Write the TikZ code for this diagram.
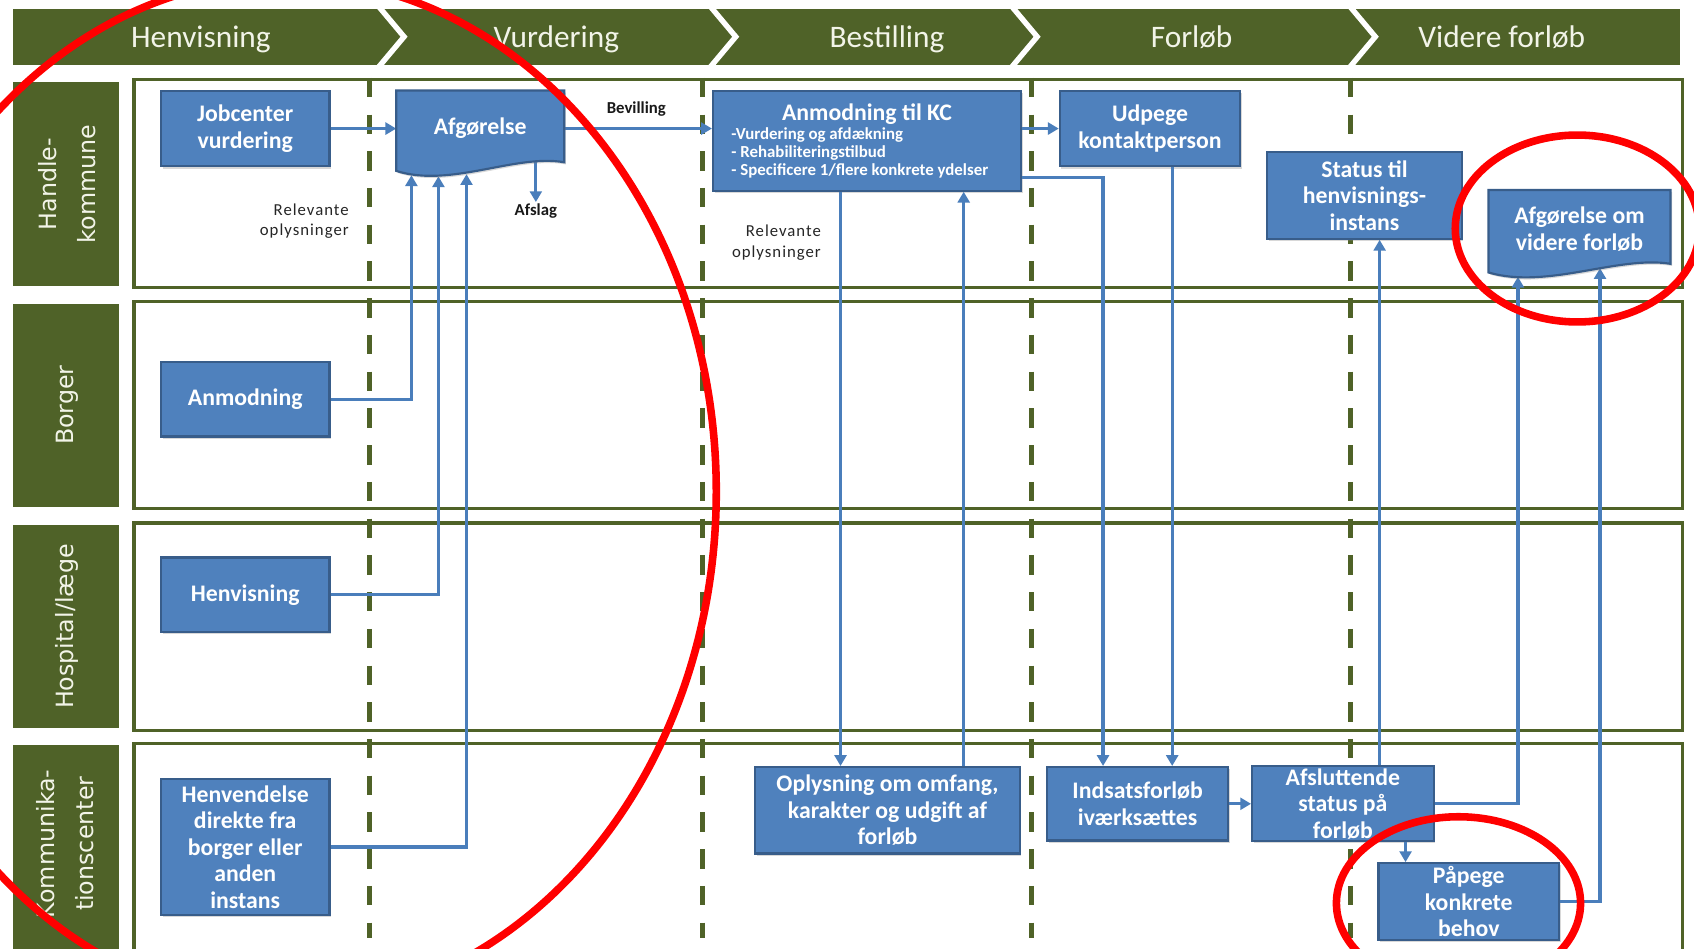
\documentclass[tikz,border=0pt]{standalone}
\usepackage{fontspec}
\setmainfont{Carlito}
\newfontfamily\lanefont{DejaVu Sans}
\newfontfamily\relfont{Carlito}[LetterSpace=6]
\usetikzlibrary{arrows.meta,calc,shadows}
\definecolor{lanegreen}{HTML}{4F6228}
\definecolor{boxblue}{HTML}{4F81BD}
\definecolor{boxedge}{HTML}{385D8A}
\definecolor{lineblue}{HTML}{4A7EBB}
\definecolor{headtext}{HTML}{F2F4E8}
\pgfdeclarelayer{docs}
\pgfdeclarelayer{front}
\pgfsetlayers{main,docs,front}
\tikzset{
  box/.style={draw=boxedge, line width=2pt, fill=boxblue, text=white, align=center, inner sep=2pt,
    font=\bfseries\fontsize{22}{24.5}\selectfont,
    drop shadow={shadow xshift=1.5pt, shadow yshift=-2pt, opacity=0.3}},
  doctext/.style={text=white, align=center, inner sep=2pt, font=\bfseries\fontsize{22}{24.5}\selectfont},
  docshape/.style={draw=boxedge, line width=2pt, fill=boxblue,
    drop shadow={shadow xshift=1.5pt, shadow yshift=-2pt, opacity=0.3}},
  conn/.style={draw=lineblue, line width=3pt, -{Triangle[length=10pt,width=11pt]}},
  lanebox/.style={draw=lanegreen, line width=3pt},
  lanetext/.style={text=headtext, rotate=90, align=center, font=\lanefont\fontsize{22}{36}\selectfont},
  headtxt/.style={text=headtext, font=\fontsize{29}{34}\selectfont, anchor=base},
  sepline/.style={draw=lanegreen, line width=5pt, dash pattern=on 18pt off 16pt},
  chev/.style={draw=white, line width=5pt, miter limit=20},
  smallnote/.style={text=black!90, font=\bfseries\fontsize{15.5}{18}\selectfont, inner sep=1pt},
  relnote/.style={text=black!85, align=right, font=\relfont\fontsize{15.5}{19}\selectfont, inner sep=1pt},
  redring/.style={draw=red, line width=7pt},
}
\begin{document}
\begin{tikzpicture}[x=1pt,y=-1pt]
\useasboundingbox (0,0) rectangle (1568,878);
\clip (0,0) rectangle (1568,878);
\fill[white] (0,0) rectangle (1568,878);

% header band
\fill[lanegreen] (12,8) rectangle (1555,60);
\foreach \x in {348,655,934,1247} \draw[chev] (\x,3) -- ({\x+26},34) -- (\x,65);
\node[headtxt] (hHen) at (186,44) {Henvisning};
\node[headtxt] (hVur) at (515,44) {Vurdering};
\node[headtxt] (hBes) at (821,44) {Bestilling};
\node[headtxt] (hFor) at (1103,44) {Forløb};
\node[headtxt] (hVid) at (1390,44) {Videre forløb};

% lane labels
\fill[lanegreen] (12,76) rectangle (110,265);
\fill[lanegreen] (12,281) rectangle (110,469);
\fill[lanegreen] (12,486) rectangle (110,674);
\fill[lanegreen] (12,690) rectangle (110,900);
\node[lanetext] (lHK) at (62,170.5) {Handle-\\kommune};
\node[lanetext] (lBo) at (62,375) {Borger};
\node[lanetext] (lHo) at (62,580) {Hospital/læge};
\node[lanetext] (lKc) at (60,781) {Kommunika-\\tionscenter};

% lane boxes
\draw[lanebox] (124,73.5) rectangle (1557,266);
\draw[lanebox] (124,279) rectangle (1557,471);
\draw[lanebox] (124,484) rectangle (1557,676);
\draw[lanebox] (124,688) rectangle (1557,900);

% phase separators
\foreach \x in {342,650,955,1250} \draw[sepline] (\x,72) -- (\x,868);

% boxes
\node[box, minimum width=156, minimum height=70] (jc) at (227,119) {Jobcenter\\vurdering};
\node[box, minimum width=156, minimum height=69] (anm) at (227,369.5) {Anmodning};
\node[box, minimum width=156, minimum height=69] (hen) at (227,550.5) {Henvisning};
\node[box, minimum width=156, minimum height=126] (hvd) at (227,784) {Henvendelse\\direkte fra\\borger eller\\anden\\instans};
\node[box, minimum width=285, minimum height=92, text width=251pt, inner xsep=17pt, align=left] (akc) at (802.5,130.5)
  {\spaceskip=0pt\xspaceskip=0pt{\centering\fontsize{22}{24}\selectfont Anmodning til KC\par}\vspace{1.6pt}{\fontsize{15.6}{16.7}\selectfont -Vurdering og afdækning\\- Rehabiliteringstilbud\\- Specificere 1/flere konkrete ydelser\par}};
\node[box, minimum width=167, minimum height=70] (udp) at (1064.5,119) {Udpege\\kontaktperson};
\node[box, minimum width=180, minimum height=80] (sta) at (1263,181) {Status til\\henvisnings-\\instans};
\node[box, minimum width=245, minimum height=80] (opl) at (821.5,750) {Oplysning om omfang,\\karakter og udgift af\\forløb};
\node[box, minimum width=168, minimum height=68] (ind) at (1053,744) {Indsatsforløb\\iværksættes};
\node[box, minimum width=168, minimum height=68] (afs) at (1243,744) {Afsluttende\\status på\\forløb};
\node[box, minimum width=167, minimum height=71] (paa) at (1359.5,834.5) {Påpege\\konkrete\\behov};

% document shaped nodes
\begin{pgfonlayer}{front}
\node[doctext, minimum width=155, minimum height=70] (afg) at (444.5,119) {Afgørelse};
\node[doctext, minimum width=168, minimum height=72] (avf) at (1462,212) {Afgørelse om\\videre forløb};
\end{pgfonlayer}
\begin{pgfonlayer}{docs}
\path[docshape] (afg.north west) -- (afg.north east) -- ($(afg.south east)+(0,-4)$)
  .. controls ($(afg.south east)+(-45,-12)$) and ($(afg.south west)+(50,20)$) .. ($(afg.south west)+(0,4)$) -- cycle;
\path[docshape] (avf.north west) -- (avf.north east) -- ($(avf.south east)+(0,-4)$)
  .. controls ($(avf.south east)+(-48,-12)$) and ($(avf.south west)+(54,20)$) .. ($(avf.south west)+(0,4)$) -- cycle;
\end{pgfonlayer}

% labels
\node[smallnote] (afslag) at (496,195) {Afslag};
\node[smallnote] (bev) at (589,101) {Bevilling};
\node[relnote, anchor=east] (rel1) at (324,204.5) {Relevante\\oplysninger};
\node[relnote, anchor=east] (rel2) at (761,224.5) {Relevante\\oplysninger};

% column helpers
\coordinate (c1) at (778,0);
\coordinate (c2) at (892,0);
\coordinate (c3) at (1021,0);
\coordinate (c4) at (1085,0);
\coordinate (c5) at (1277,0);
\coordinate (c6) at (1301,0);
\coordinate (c7) at (1405,0);
\coordinate (c8) at (1481,0);
\coordinate (r1) at (0,164);

% connectors
\draw[conn] (jc.east) -- (afg.west);
\draw[conn] (anm.east) -| ($(afg.south west)+(14,8)$);
\draw[conn] (hen.east) -| ($(afg.south west)+(39,9)$);
\draw[conn] (hvd.east) -| ($(afg.south west)+(65,7)$);
\draw[conn] ($(afslag.north |- afg.south)+(0,-5)$) -- (afslag.north);
\draw[conn] (afg.east) -- (afg.east -| akc.west);
\draw[conn] (akc.east |- udp.west) -- (udp.west);
\draw[conn] (akc.south -| c1) -- (opl.north -| c1);
\draw[conn] (opl.north -| c2) -- (akc.south -| c2);
\draw[conn] (akc.east |- r1) -| (ind.north -| c3);
\draw[conn] (udp.south -| c4) -- (ind.north -| c4);
\draw[conn] (ind.east) -- (afs.west);
\draw[conn] (afs.north -| c5) -- (sta.south -| c5);
\draw[conn] (afs.south -| c6) -- (paa.north -| c6);
\draw[conn] (afs.east) -| ($(avf.south -| c7)+(0,8)$);
\draw[conn] (paa.east) -| (avf.south -| c8);

% red annotation rings
\begin{pgfonlayer}{front}
\draw[redring] (265,455) ellipse [x radius=398, y radius=475];
\draw[redring] (1460,211.5) ellipse [x radius=113, y radius=86.5];
\draw[redring] (1350,836) ellipse [x radius=113, y radius=80];
\end{pgfonlayer}
\end{tikzpicture}
\end{document}
